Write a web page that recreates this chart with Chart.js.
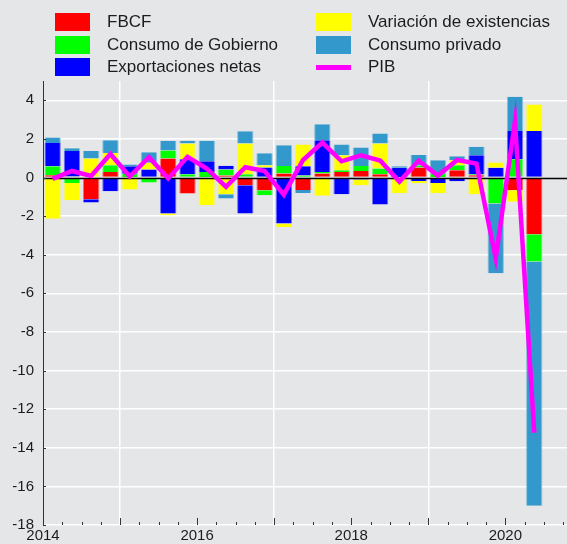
<!DOCTYPE html>
<html lang="es">
<head>
<meta charset="utf-8">
<title>Contribuciones al crecimiento del PIB</title>
<script src="https://cdn.jsdelivr.net/npm/chart.js@4.4.1/dist/chart.umd.min.js"></script>
<style>
    html, body {
        margin: 0;
        padding: 0;
        background: #e5e6e8;
    }
    #wrap {
        position: relative;
        width: 567px;
        height: 544px;
        overflow: hidden;
    }
    #chart {
        position: absolute;
        left: 0;
        top: 0;
    }
    #legend {
        position: absolute;
        left: 0;
        top: 0;
        font-family: "Liberation Sans", Arial, sans-serif;
        font-size: 17px;
        color: #1c1c1c;
    }
    .legend-item {
        position: absolute;
        height: 18px;
        white-space: nowrap;
    }
    .legend-item .swatch {
        position: absolute;
        left: 0;
        top: 0;
        width: 35px;
        height: 18px;
        box-sizing: border-box;
    }
    .legend-item .swatch.line {
        top: 7px;
        height: 5px;
    }
    .legend-item .text {
        position: absolute;
        left: 52px;
        top: 0;
        line-height: 18px;
    }
</style>
</head>
<body>
<div id="wrap">
    <canvas id="chart" width="567" height="544"></canvas>
    <div id="legend"></div>
</div>
<script>
// Trimestres y contribuciones al crecimiento (puntos porcentuales)
const periods = [
    '2014Q1', '2014Q2', '2014Q3', '2014Q4',
    '2015Q1', '2015Q2', '2015Q3', '2015Q4',
    '2016Q1', '2016Q2', '2016Q3', '2016Q4',
    '2017Q1', '2017Q2', '2017Q3', '2017Q4',
    '2018Q1', '2018Q2', '2018Q3', '2018Q4',
    '2019Q1', '2019Q2', '2019Q3', '2019Q4',
    '2020Q1', '2020Q2'
];
const fbcf = [0.12, 0.05, -1.12, 0.29, 0.03, -0.08, 0.98, -0.83, 0.03, 0.10, -0.40, -0.66, 0.21,
    -0.64, 0.21, 0.29, 0.34, 0.17, 0.03, 0.52, 0.03, 0.38, 0.12, 0.00, -0.66, -2.94];
const consumoGobierno = [0.47, -0.28, 0.00, 0.35, 0.17, -0.18, 0.42, 0.17, 0.26, 0.31, 0.17, -0.26, 0.39,
    0.10, 0.08, 0.09, 0.26, 0.30, -0.03, 0.10, 0.17, 0.26, 0.05, -1.35, 0.95, -1.41];
const exportacionesNetas = [1.20, 1.33, -0.18, -0.71, 0.38, 0.41, -1.87, 0.78, 0.55, 0.20, -1.47, 0.52, -2.38,
    0.49, 1.64, -0.87, -0.10, -1.40, 0.47, -0.18, -0.28, -0.19, 0.99, 0.50, 1.46, 2.41];
const variacionExistencias = [-2.14, -0.90, 0.98, 0.63, -0.62, 0.35, -0.08, 0.81, -1.44, -0.87, 1.59, 0.12, -0.18,
    1.12, -0.95, 0.78, -0.30, 1.29, -0.77, -0.12, -0.52, 0.26, -0.87, 0.28, -0.60, 1.37];
const consumoPrivado = [0.28, 0.14, 0.40, 0.66, 0.09, 0.55, 0.50, 0.14, 1.06, -0.22, 0.64, 0.62, 1.07,
    -0.16, 0.83, 0.55, 0.95, 0.52, 0.09, 0.55, 0.70, 0.20, 0.43, -3.61, 1.77, -12.65];
const pib = [-0.07, 0.34, 0.08, 1.22, 0.05, 1.05, -0.05, 1.07, 0.46, -0.48, 0.53, 0.34, -0.89,
    0.91, 1.81, 0.84, 1.15, 0.88, -0.21, 0.87, 0.10, 0.91, 0.72, -4.18, 2.92, -13.22];

// Etiquetas de los ejes
const yTicks = [-18, -16, -14, -12, -10, -8, -6, -4, -2, 0, 2, 4];
const yearLabels = [2014, 2016, 2018, 2020];

const LEGEND_X = [55, 316];
const LEGEND_Y = [13, 35.5, 58];

document.addEventListener('DOMContentLoaded', function() {
    const chart = initChart();
    buildLegend(chart);
});

/**
 * '2015Q3' -> 2015.625 (centro del trimestre)
 */
function periodToYear(period) {
    const year = parseInt(period.slice(0, 4), 10);
    const quarter = parseInt(period.slice(5), 10);
    return year + (quarter - 0.5) / 4;
}

function toPoints(values) {
    return values.map((v, i) => ({ x: periodToYear(periods[i]), y: v }));
}

function barDataset(label, values, color, edge) {
    return {
        type: 'bar',
        label: label,
        data: toPoints(values),
        backgroundColor: color,
        borderColor: edge,
        borderWidth: { left: 1, right: 1, top: 0, bottom: 0 },
        categoryPercentage: 1,
        barPercentage: 0.85,
        order: 1
    };
}

// Línea del cero por encima de las barras y por debajo del PIB
const zeroLine = {
    id: 'zeroLine',
    beforeDatasetDraw(chart, args) {
        if (args.meta.type !== 'line') return;
        const { ctx, chartArea, scales } = chart;
        const y0 = Math.round(scales.y.getPixelForValue(0)) + 0.5;
        ctx.save();
        ctx.strokeStyle = '#000';
        ctx.lineWidth = 1.3;
        ctx.beginPath();
        ctx.moveTo(chartArea.left, y0);
        ctx.lineTo(chartArea.right, y0);
        ctx.stroke();
        ctx.restore();
    }
};

// Marcas de graduación hacia dentro del área del gráfico
const insideTicks = {
    id: 'insideTicks',
    afterDatasetsDraw(chart) {
        const { ctx, chartArea, scales } = chart;
        ctx.save();
        ctx.strokeStyle = '#333';
        ctx.lineWidth = 1;
        ctx.beginPath();
        scales.x.ticks.forEach(t => {
            const px = Math.round(scales.x.getPixelForValue(t.value)) + 0.5;
            const len = Number.isInteger(t.value) ? 7 : 3;
            ctx.moveTo(px, chartArea.bottom);
            ctx.lineTo(px, chartArea.bottom - len);
        });
        scales.y.ticks.forEach(t => {
            const py = Math.round(scales.y.getPixelForValue(t.value)) + 0.5;
            ctx.moveTo(chartArea.left, py);
            ctx.lineTo(chartArea.left + 3, py);
        });
        ctx.stroke();
        ctx.restore();
    }
};

function initChart() {
    Chart.defaults.font.family = '"Liberation Sans", Arial, sans-serif';
    Chart.defaults.color = '#1c1c1c';

    const quarterTicks = [];
    for (let v = 2014; v <= 2020.75; v += 0.25) {
        quarterTicks.push(v);
    }

    return new Chart(document.getElementById('chart'), {
        type: 'bar',
        data: {
            datasets: [
                barDataset('FBCF', fbcf, '#ff0000', 'rgba(255, 0, 0, 0.5)'),
                barDataset('Consumo de Gobierno', consumoGobierno, '#00ff00', 'rgba(0, 255, 0, 0.5)'),
                barDataset('Exportaciones netas', exportacionesNetas, '#0000ff', 'rgba(0, 0, 255, 0.5)'),
                barDataset('Variación de existencias', variacionExistencias, '#ffff00', 'rgba(255, 255, 0, 0.5)'),
                barDataset('Consumo privado', consumoPrivado, '#3399cc', 'rgba(51, 153, 204, 0.5)'),
                {
                    type: 'line',
                    label: 'PIB',
                    data: toPoints(pib),
                    borderColor: '#ff00ff',
                    backgroundColor: '#ff00ff',
                    borderWidth: 4.5,
                    pointRadius: 0,
                    tension: 0,
                    fill: false,
                    stack: 'pib',
                    order: 0
                }
            ]
        },
        options: {
            responsive: false,
            animation: false,
            layout: { padding: { top: 81, right: 0, bottom: 0, left: 0 } },
            plugins: {
                legend: { display: false },
                tooltip: { enabled: false }
            },
            scales: {
                x: {
                    type: 'linear',
                    min: 2014,
                    max: 2020.8,
                    stacked: true,
                    offset: false,
                    afterBuildTicks: scale => {
                        scale.ticks = quarterTicks.map(v => ({ value: v }));
                    },
                    afterFit: scale => {
                        scale.height = 19;
                    },
                    ticks: {
                        autoSkip: false,
                        maxRotation: 0,
                        padding: 2,
                        font: { size: 15 },
                        callback: value => yearLabels.includes(value) ? String(value) : ''
                    },
                    grid: {
                        offset: false,
                        drawTicks: false,
                        lineWidth: 1.5,
                        color: ctx => (Number.isInteger(ctx.tick.value) && ctx.tick.value % 2 === 1)
                            ? '#ffffff' : 'rgba(0, 0, 0, 0)'
                    },
                    border: { display: false }
                },
                y: {
                    min: -18,
                    max: 5,
                    stacked: true,
                    afterBuildTicks: scale => {
                        scale.ticks = yTicks.map(v => ({ value: v }));
                    },
                    afterFit: scale => {
                        scale.width = 43;
                    },
                    ticks: {
                        padding: 9,
                        font: { size: 15 }
                    },
                    grid: {
                        drawTicks: false,
                        lineWidth: 1.5,
                        color: ctx => ctx.tick.value === 0 ? 'rgba(0, 0, 0, 0)' : '#ffffff'
                    },
                    border: { display: true, color: '#333', width: 1 }
                }
            }
        },
        plugins: [zeroLine, insideTicks]
    });
}

/**
 * Leyenda en dos columnas construida a partir de los datasets
 */
function buildLegend(chart) {
    const legend = document.getElementById('legend');
    chart.data.datasets.forEach((ds, i) => {
        const col = Math.floor(i / 3);
        const row = i % 3;

        const item = document.createElement('div');
        item.className = 'legend-item';
        item.style.left = LEGEND_X[col] + 'px';
        item.style.top = LEGEND_Y[row] + 'px';

        const swatch = document.createElement('span');
        swatch.className = ds.type === 'line' ? 'swatch line' : 'swatch';
        swatch.style.background = ds.type === 'line' ? ds.borderColor : ds.backgroundColor;
        if (ds.type !== 'line') {
            swatch.style.border = '1px solid ' + ds.borderColor;
        }

        const text = document.createElement('span');
        text.className = 'text';
        text.textContent = ds.label;

        item.appendChild(swatch);
        item.appendChild(text);
        legend.appendChild(item);
    });
}
</script>
</body>
</html>
